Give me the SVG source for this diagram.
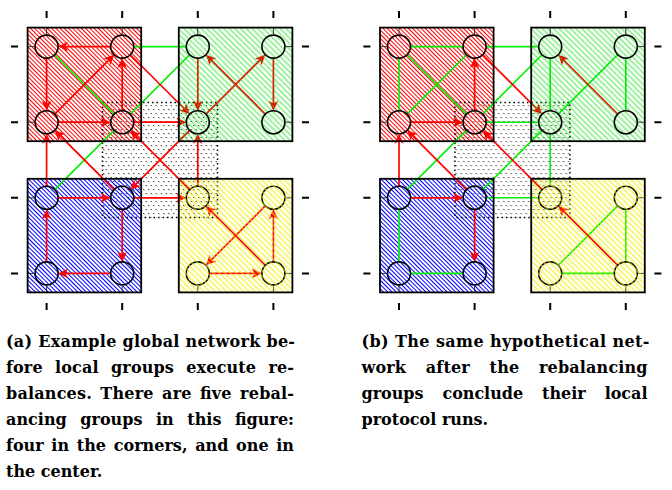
<svg xmlns="http://www.w3.org/2000/svg" width="672" height="490" viewBox="0 0 672 490">
<style>
.box{fill:none;stroke:#000;stroke-width:1.8}
.nd{fill:none;stroke:#000;stroke-width:1.6}
.stub{stroke:#333;stroke-width:1}
.tick{stroke:#000;stroke-width:2}
.r{stroke:#f00;stroke-width:1.7;fill:none;marker-end:url(#ar)}
.g{stroke:#0e0;stroke-width:1.6;fill:none}
.cap{font-family:"DejaVu Serif",serif;font-weight:bold;font-size:16px;fill:#000}
.ctr{fill:url(#dots)}
.ctrb{fill:none;stroke:#000;stroke-width:1.5;stroke-dasharray:1.5 3}
.ovg{opacity:0.75}
.ovy{opacity:0.85}
</style>
<defs>
<pattern id="hr" patternUnits="userSpaceOnUse" width="3" height="3" patternTransform="rotate(-45)"><line x1="1.5" y1="-1" x2="1.5" y2="4" stroke="#f00" stroke-width="1"/></pattern>
<pattern id="hb" patternUnits="userSpaceOnUse" width="3" height="3" patternTransform="rotate(-45)"><line x1="1.5" y1="-1" x2="1.5" y2="4" stroke="#00f" stroke-width="1"/></pattern>
<pattern id="hg" patternUnits="userSpaceOnUse" width="4" height="4" patternTransform="rotate(-45)"><line x1="2" y1="-1" x2="2" y2="5" stroke="#0d0" stroke-width="1"/></pattern>
<pattern id="hy" patternUnits="userSpaceOnUse" width="4" height="4" patternTransform="rotate(-45)"><line x1="2" y1="-1" x2="2" y2="5" stroke="#ee0" stroke-width="1.2"/></pattern>
<pattern id="dots" patternUnits="userSpaceOnUse" width="5" height="8"><path d="M0.8,1 l1,1.2 M3.3,5 l1,1.2" stroke="#000" stroke-width="0.9"/></pattern>
<marker id="ar" viewBox="-7 -6 12 12" refX="0" refY="0" markerWidth="12" markerHeight="12" markerUnits="userSpaceOnUse" orient="auto"><path d="M4,0 L-6,-4.8 L-3.3,0 L-6,4.8 Z" fill="#f00"/></marker>
</defs>
<rect width="672" height="490" fill="#fff"/>

<g id="fig-a">
  <g id="a-groups">
    <rect x="27.6" y="27.6" width="113.6" height="113.6" fill="url(#hr)"/>
    <rect x="178.8" y="27.6" width="113.6" height="113.6" fill="#fff"/>
    <rect x="27.6" y="178.8" width="113.6" height="113.6" fill="url(#hb)"/>
    <rect x="178.8" y="178.8" width="113.6" height="113.6" fill="#fff"/>
  </g>
  <g id="a-center">
    <rect class="ctr" x="102.5" y="102.5" width="115" height="115"/>
    <rect class="ctrb" x="102.5" y="102.5" width="115" height="115"/>
  </g>
  <g id="a-connectors">
    <line class="g" x1="54.73" y1="54.73" x2="114.07" y2="114.07"/>
    <line class="g" x1="133.7" y1="46.6" x2="186.3" y2="46.6"/>
    <line class="g" x1="189.67" y1="54.73" x2="130.33" y2="114.07"/>
    <line class="g" x1="114.07" y1="130.33" x2="54.73" y2="189.67"/>
    <line class="r" x1="110.7" y1="46.6" x2="62.1" y2="46.6"/>
    <line class="r" x1="46.6" y1="58.1" x2="46.6" y2="106.7"/>
    <line class="r" x1="54.73" y1="114.07" x2="111.24" y2="57.56"/>
    <line class="r" x1="122.2" y1="110.7" x2="122.2" y2="62.1"/>
    <line class="r" x1="58.1" y1="122.2" x2="106.7" y2="122.2"/>
    <line class="r" x1="133.7" y1="122.2" x2="182.3" y2="122.2"/>
    <line class="r" x1="130.33" y1="54.73" x2="186.84" y2="111.24"/>
    <line class="r" x1="197.8" y1="58.1" x2="197.8" y2="106.7"/>
    <line class="r" x1="205.93" y1="114.07" x2="262.44" y2="57.56"/>
    <line class="r" x1="273.4" y1="58.1" x2="273.4" y2="106.7"/>
    <line class="r" x1="265.27" y1="114.07" x2="208.76" y2="57.56"/>
    <line class="r" x1="46.6" y1="186.3" x2="46.6" y2="137.7"/>
    <line class="r" x1="114.07" y1="189.67" x2="57.56" y2="133.16"/>
    <line class="r" x1="189.67" y1="189.67" x2="133.16" y2="133.16"/>
    <line class="r" x1="189.67" y1="130.33" x2="133.16" y2="186.84"/>
    <line class="r" x1="197.8" y1="186.3" x2="197.8" y2="137.7"/>
    <line class="r" x1="58.1" y1="197.8" x2="106.7" y2="197.8"/>
    <line class="r" x1="122.2" y1="209.3" x2="122.2" y2="257.9"/>
    <line class="r" x1="110.7" y1="273.4" x2="62.1" y2="273.4"/>
    <line class="r" x1="46.6" y1="261.9" x2="46.6" y2="213.3"/>
    <line class="r" x1="133.7" y1="197.8" x2="182.3" y2="197.8"/>
    <line class="r" x1="265.27" y1="265.27" x2="208.76" y2="208.76"/>
    <line class="r" x1="265.27" y1="205.93" x2="208.76" y2="262.44"/>
    <line class="r" x1="209.3" y1="273.4" x2="257.9" y2="273.4"/>
    <line class="r" x1="273.4" y1="261.9" x2="273.4" y2="213.3"/>
  </g>
  <rect class="ovg" x="178.8" y="27.6" width="113.6" height="113.6" fill="url(#hg)"/>
  <g id="a-nodes">
    <g id="a-A"><circle class="nd" cx="46.6" cy="46.6" r="11.5"/><path class="stub" d="M46.6,35.1V27.6M35.1,46.6H27.6"/></g>
    <g id="a-B"><circle class="nd" cx="122.2" cy="46.6" r="11.5"/><path class="stub" d="M122.2,35.1V27.6"/></g>
    <g id="a-C"><circle class="nd" cx="46.6" cy="122.2" r="11.5"/><path class="stub" d="M35.1,122.2H27.6"/></g>
    <g id="a-D"><circle class="nd" cx="122.2" cy="122.2" r="11.5"/></g>
    <g id="a-E"><circle class="nd" cx="197.8" cy="46.6" r="11.5"/><path class="stub" d="M197.8,35.1V27.6"/></g>
    <g id="a-F"><circle class="nd" cx="273.4" cy="46.6" r="11.5"/><path class="stub" d="M273.4,35.1V27.6M284.9,46.6H292.4"/></g>
    <g id="a-G"><circle class="nd" cx="197.8" cy="122.2" r="11.5"/></g>
    <g id="a-H"><circle class="nd" cx="273.4" cy="122.2" r="11.5"/><path class="stub" d="M284.9,122.2H292.4"/></g>
    <g id="a-I"><circle class="nd" cx="46.6" cy="197.8" r="11.5"/><path class="stub" d="M35.1,197.8H27.6"/></g>
    <g id="a-J"><circle class="nd" cx="122.2" cy="197.8" r="11.5"/></g>
    <g id="a-K"><circle class="nd" cx="46.6" cy="273.4" r="11.5"/><path class="stub" d="M35.1,273.4H27.6M46.6,284.9V292.4"/></g>
    <g id="a-L"><circle class="nd" cx="122.2" cy="273.4" r="11.5"/><path class="stub" d="M122.2,284.9V292.4"/></g>
    <g id="a-M"><circle class="nd" cx="197.8" cy="197.8" r="11.5"/></g>
    <g id="a-N"><circle class="nd" cx="273.4" cy="197.8" r="11.5"/><path class="stub" d="M284.9,197.8H292.4"/></g>
    <g id="a-O"><circle class="nd" cx="197.8" cy="273.4" r="11.5"/><path class="stub" d="M197.8,284.9V292.4"/></g>
    <g id="a-P"><circle class="nd" cx="273.4" cy="273.4" r="11.5"/><path class="stub" d="M273.4,284.9V292.4M284.9,273.4H292.4"/></g>
  </g>
  <rect class="ovy" x="178.8" y="178.8" width="113.6" height="113.6" fill="url(#hy)"/>
  <g id="a-outlines">
    <rect class="box" x="27.6" y="27.6" width="113.6" height="113.6"/>
    <rect class="box" x="178.8" y="27.6" width="113.6" height="113.6"/>
    <rect class="box" x="27.6" y="178.8" width="113.6" height="113.6"/>
    <rect class="box" x="178.8" y="178.8" width="113.6" height="113.6"/>
  </g>
  <path id="a-ticks" class="tick" d="M46.6,11V18M122.2,11V18M197.8,11V18M273.4,11V18M46.6,303V310M122.2,303V310M197.8,303V310M273.4,303V310M11,46.6H18M11,122.2H18M11,197.8H18M11,273.4H18M302,46.6H309M302,122.2H309M302,197.8H309M302,273.4H309"/>
</g>

<g id="fig-b" transform="translate(352.4,0)">
  <g id="b-groups">
    <rect x="27.6" y="27.6" width="113.6" height="113.6" fill="url(#hr)"/>
    <rect x="178.8" y="27.6" width="113.6" height="113.6" fill="#fff"/>
    <rect x="27.6" y="178.8" width="113.6" height="113.6" fill="url(#hb)"/>
    <rect x="178.8" y="178.8" width="113.6" height="113.6" fill="#fff"/>
  </g>
  <g id="b-center">
    <rect class="ctr" x="102.5" y="102.5" width="115" height="115"/>
    <rect class="ctrb" x="102.5" y="102.5" width="115" height="115"/>
  </g>
  <g id="b-connectors">
    <line class="g" x1="58.1" y1="46.6" x2="110.7" y2="46.6"/>
    <line class="g" x1="46.6" y1="58.1" x2="46.6" y2="110.7"/>
    <line class="g" x1="54.73" y1="54.73" x2="114.07" y2="114.07"/>
    <line class="g" x1="54.73" y1="114.07" x2="114.07" y2="54.73"/>
    <line class="g" x1="133.7" y1="46.6" x2="186.3" y2="46.6"/>
    <line class="g" x1="189.67" y1="54.73" x2="130.33" y2="114.07"/>
    <line class="g" x1="114.07" y1="130.33" x2="54.73" y2="189.67"/>
    <line class="g" x1="133.7" y1="122.2" x2="186.3" y2="122.2"/>
    <line class="g" x1="189.67" y1="130.33" x2="130.33" y2="189.67"/>
    <line class="g" x1="205.93" y1="114.07" x2="265.27" y2="54.73"/>
    <line class="g" x1="197.8" y1="58.1" x2="197.8" y2="110.7"/>
    <line class="g" x1="273.4" y1="58.1" x2="273.4" y2="110.7"/>
    <line class="g" x1="197.8" y1="133.7" x2="197.8" y2="186.3"/>
    <line class="g" x1="133.7" y1="197.8" x2="186.3" y2="197.8"/>
    <line class="g" x1="46.6" y1="209.3" x2="46.6" y2="261.9"/>
    <line class="g" x1="58.1" y1="273.4" x2="110.7" y2="273.4"/>
    <line class="g" x1="265.27" y1="205.93" x2="205.93" y2="265.27"/>
    <line class="g" x1="209.3" y1="273.4" x2="261.9" y2="273.4"/>
    <line class="g" x1="273.4" y1="209.3" x2="273.4" y2="261.9"/>
    <line class="r" x1="122.2" y1="110.7" x2="122.2" y2="62.1"/>
    <line class="r" x1="58.1" y1="122.2" x2="106.7" y2="122.2"/>
    <line class="r" x1="130.33" y1="54.73" x2="186.84" y2="111.24"/>
    <line class="r" x1="265.27" y1="114.07" x2="208.76" y2="57.56"/>
    <line class="r" x1="46.6" y1="186.3" x2="46.6" y2="137.7"/>
    <line class="r" x1="114.07" y1="189.67" x2="57.56" y2="133.16"/>
    <line class="r" x1="189.67" y1="189.67" x2="133.16" y2="133.16"/>
    <line class="r" x1="265.27" y1="265.27" x2="208.76" y2="208.76"/>
    <line class="r" x1="58.1" y1="197.8" x2="106.7" y2="197.8"/>
    <line class="r" x1="122.2" y1="209.3" x2="122.2" y2="257.9"/>
  </g>
  <rect class="ovg" x="178.8" y="27.6" width="113.6" height="113.6" fill="url(#hg)"/>
  <g id="b-nodes">
    <g id="b-A"><circle class="nd" cx="46.6" cy="46.6" r="11.5"/><path class="stub" d="M46.6,35.1V27.6M35.1,46.6H27.6"/></g>
    <g id="b-B"><circle class="nd" cx="122.2" cy="46.6" r="11.5"/><path class="stub" d="M122.2,35.1V27.6"/></g>
    <g id="b-C"><circle class="nd" cx="46.6" cy="122.2" r="11.5"/><path class="stub" d="M35.1,122.2H27.6"/></g>
    <g id="b-D"><circle class="nd" cx="122.2" cy="122.2" r="11.5"/></g>
    <g id="b-E"><circle class="nd" cx="197.8" cy="46.6" r="11.5"/><path class="stub" d="M197.8,35.1V27.6"/></g>
    <g id="b-F"><circle class="nd" cx="273.4" cy="46.6" r="11.5"/><path class="stub" d="M273.4,35.1V27.6M284.9,46.6H292.4"/></g>
    <g id="b-G"><circle class="nd" cx="197.8" cy="122.2" r="11.5"/></g>
    <g id="b-H"><circle class="nd" cx="273.4" cy="122.2" r="11.5"/><path class="stub" d="M284.9,122.2H292.4"/></g>
    <g id="b-I"><circle class="nd" cx="46.6" cy="197.8" r="11.5"/><path class="stub" d="M35.1,197.8H27.6"/></g>
    <g id="b-J"><circle class="nd" cx="122.2" cy="197.8" r="11.5"/></g>
    <g id="b-K"><circle class="nd" cx="46.6" cy="273.4" r="11.5"/><path class="stub" d="M35.1,273.4H27.6M46.6,284.9V292.4"/></g>
    <g id="b-L"><circle class="nd" cx="122.2" cy="273.4" r="11.5"/><path class="stub" d="M122.2,284.9V292.4"/></g>
    <g id="b-M"><circle class="nd" cx="197.8" cy="197.8" r="11.5"/></g>
    <g id="b-N"><circle class="nd" cx="273.4" cy="197.8" r="11.5"/><path class="stub" d="M284.9,197.8H292.4"/></g>
    <g id="b-O"><circle class="nd" cx="197.8" cy="273.4" r="11.5"/><path class="stub" d="M197.8,284.9V292.4"/></g>
    <g id="b-P"><circle class="nd" cx="273.4" cy="273.4" r="11.5"/><path class="stub" d="M273.4,284.9V292.4M284.9,273.4H292.4"/></g>
  </g>
  <rect class="ovy" x="178.8" y="178.8" width="113.6" height="113.6" fill="url(#hy)"/>
  <g id="b-outlines">
    <rect class="box" x="27.6" y="27.6" width="113.6" height="113.6"/>
    <rect class="box" x="178.8" y="27.6" width="113.6" height="113.6"/>
    <rect class="box" x="27.6" y="178.8" width="113.6" height="113.6"/>
    <rect class="box" x="178.8" y="178.8" width="113.6" height="113.6"/>
  </g>
  <path id="b-ticks" class="tick" d="M46.6,11V18M122.2,11V18M197.8,11V18M273.4,11V18M46.6,303V310M122.2,303V310M197.8,303V310M273.4,303V310M11,46.6H18M11,122.2H18M11,197.8H18M11,273.4H18M302,46.6H309M302,122.2H309M302,197.8H309M302,273.4H309"/>
</g>

<g id="captions" class="cap">
  <text x="6" y="347" textLength="289" lengthAdjust="spacing">(a) Example global network be-</text>
  <text x="6" y="373" textLength="288" lengthAdjust="spacing" word-spacing="6.6">fore local groups execute re-</text>
  <text x="6" y="399" textLength="288" lengthAdjust="spacing" word-spacing="2.6">balances. There are five rebal-</text>
  <text x="6" y="425" textLength="288" lengthAdjust="spacing" word-spacing="7.9">ancing groups in this figure:</text>
  <text x="6" y="451" textLength="288" lengthAdjust="spacing" word-spacing="2.1">four in the corners, and one in</text>
  <text x="6" y="477">the center.</text>
  <text x="361.5" y="347" textLength="288" lengthAdjust="spacing">(b) The same hypothetical net-</text>
  <text x="361.5" y="373" textLength="286" lengthAdjust="spacing" word-spacing="14">work after the rebalancing</text>
  <text x="361.5" y="399" textLength="286" lengthAdjust="spacing" word-spacing="13.5">groups conclude their local</text>
  <text x="361.5" y="425">protocol runs.</text>
</g>
</svg>
